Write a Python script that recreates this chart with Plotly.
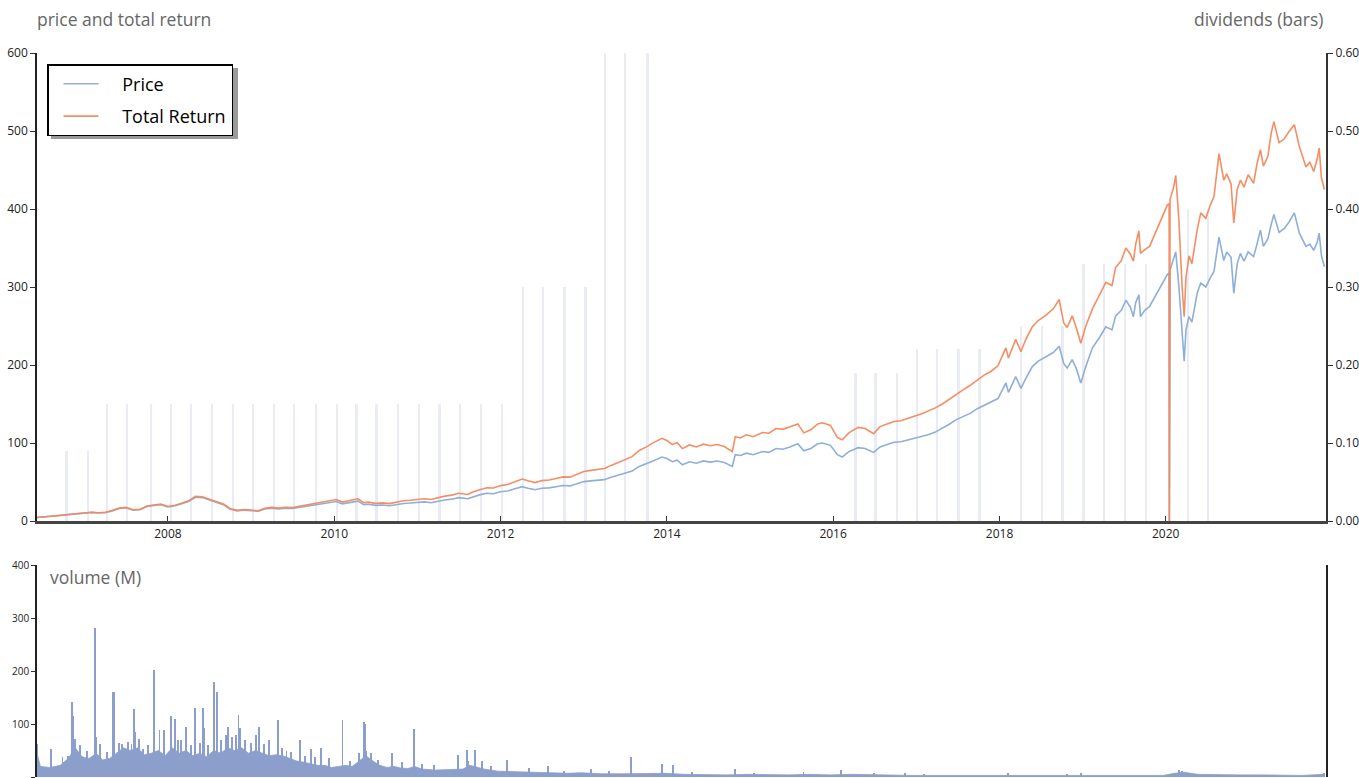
import plotly.graph_objects as go

# ---------------- data ----------------
dates = ["2006-06-05","2006-07-01","2006-08-01","2006-09-01","2006-10-01","2006-11-01","2006-12-01",
"2007-01-01","2007-02-01","2007-03-01","2007-04-01","2007-05-01","2007-06-01","2007-07-01","2007-08-01",
"2007-09-01","2007-10-01","2007-11-01","2007-12-01","2008-01-01","2008-02-01","2008-03-01","2008-04-01",
"2008-05-01","2008-06-01","2008-07-01","2008-08-01","2008-09-01","2008-10-01","2008-11-01","2008-12-01",
"2009-01-01","2009-02-01","2009-03-01","2009-04-01","2009-05-01","2009-06-01","2009-07-01","2009-08-01",
"2009-09-01","2009-10-01","2009-11-01","2009-12-01","2010-01-10","2010-02-05","2010-03-01","2010-04-15",
"2010-05-10","2010-06-01","2010-07-01","2010-08-01","2010-09-01","2010-10-01","2010-11-01","2010-12-01",
"2011-01-01","2011-02-01","2011-03-01","2011-04-01","2011-05-01","2011-06-01","2011-07-01","2011-08-10",
"2011-09-01","2011-10-01","2011-11-01","2011-12-01","2012-01-01","2012-02-01","2012-03-01","2012-04-05",
"2012-05-01","2012-06-01","2012-07-01","2012-08-01","2012-09-01","2012-10-01","2012-11-01","2012-12-01",
"2013-01-01","2013-02-01","2013-03-01","2013-04-01","2013-05-01","2013-06-01","2013-07-01","2013-08-01",
"2013-09-01","2013-10-01","2013-11-01","2013-12-10","2014-01-01","2014-01-25","2014-02-15","2014-03-10",
"2014-04-10","2014-05-10","2014-06-10","2014-07-10","2014-08-10","2014-09-10","2014-10-15","2014-10-28",
"2014-11-20","2014-12-15","2015-01-15","2015-02-25","2015-03-25","2015-04-25","2015-05-25","2015-06-25",
"2015-07-30","2015-08-25","2015-09-25","2015-10-25","2015-11-15","2015-12-20","2016-01-20","2016-02-10",
"2016-03-10","2016-04-20","2016-05-20","2016-06-27","2016-07-25","2016-08-25","2016-09-25","2016-10-25",
"2016-11-25","2016-12-25","2017-01-25","2017-02-25","2017-03-25","2017-04-25","2017-05-25","2017-06-25",
"2017-07-25","2017-08-25","2017-09-25","2017-10-25","2017-11-25","2017-12-25","2018-01-29","2018-02-09",
"2018-03-13","2018-04-05","2018-04-25","2018-05-25","2018-06-20","2018-07-24","2018-08-25","2018-09-20",
"2018-10-10","2018-10-25","2018-11-16","2018-12-05","2018-12-24","2019-01-15","2019-02-13","2019-03-15",
"2019-04-13","2019-05-10","2019-05-26","2019-06-20","2019-07-10","2019-07-30","2019-08-12","2019-08-22",
"2019-09-05","2019-09-12","2019-10-01","2019-10-22","2019-11-15","2019-12-08","2020-01-08","2020-01-16",
"2020-01-17","2020-01-20","2020-02-05","2020-02-14","2020-02-28","2020-03-13","2020-03-22","2020-03-30",
"2020-04-12","2020-04-25","2020-05-18","2020-06-03","2020-06-25","2020-07-15","2020-07-31","2020-08-22",
"2020-09-12","2020-09-25","2020-10-14","2020-10-26","2020-11-10","2020-11-24","2020-12-10","2020-12-28",
"2021-01-21","2021-02-05","2021-02-20","2021-03-05","2021-03-25","2021-04-08","2021-04-20","2021-05-13",
"2021-06-05","2021-06-25","2021-07-19","2021-08-10","2021-08-25","2021-09-08","2021-09-25","2021-10-12",
"2021-10-28","2021-11-05","2021-11-15","2021-11-28"]

price = [4.5,5.0,5.5,6.5,7.5,8.5,9.5,
10.5,11.0,10.2,10.8,13.0,16.0,17.0,14.0,
14.5,18.5,20.0,21.0,18.0,19.5,22.0,25.0,
30.5,30.0,27.0,24.0,21.0,15.0,13.0,14.0,
13.0,12.5,15.5,16.5,15.5,16.5,16.0,17.5,
19.0,20.5,21.5,23.5,25.0,22.0,23.5,25.5,
21.0,21.5,20.0,20.5,19.5,21.0,22.5,23.0,
24.0,24.5,23.5,25.5,27.0,28.0,30.0,28.5,
31.0,33.5,35.5,35.0,37.5,38.5,41.0,44.0,
42.0,40.0,42.0,42.5,44.0,45.5,45.0,47.5,
50.5,51.5,52.5,53.0,56.0,58.5,61.0,64.0,
70.0,73.0,77.0,82.0,80.0,76.0,78.0,72.0,
76.0,74.0,77.0,75.5,77.0,75.0,70.0,85.0,
84.0,87.0,85.0,89.0,88.0,93.0,92.0,95.0,
99.0,90.0,93.0,99.0,100.0,97.0,85.0,82.0,
89.0,94.0,93.0,88.0,95.0,98.0,101.0,101.5,
104.0,106.0,108.0,111.0,114.0,119.0,124.0,130.0,
134.0,138.0,144.0,148.0,152.0,157.0,177.0,165.0,
185.0,170.0,182.0,198.0,205.0,211.0,216.0,224.0,
202.0,196.0,207.0,195.0,177.0,198.0,222.0,235.0,
249.0,245.0,263.0,270.0,283.0,274.0,262.0,280.0,
290.0,262.0,270.0,275.0,288.0,300.0,316.0,318.0,
0.0,322.0,335.0,345.0,300.0,235.0,205.0,245.0,
262.0,255.0,292.0,305.0,300.0,312.0,320.0,364.0,
334.0,345.0,338.0,292.0,330.0,343.0,333.0,345.0,
339.0,355.0,373.0,352.0,362.0,380.0,393.0,370.0,
375.0,383.0,395.0,369.0,360.0,352.0,355.0,347.0,
358.0,369.0,340.0,326.0]

total_return = [4.5,5.0,5.6,6.6,7.7,8.7,9.8,
10.8,11.3,10.5,11.1,13.4,16.5,17.5,14.5,
15.0,19.1,20.6,21.7,18.6,20.2,22.8,25.9,
31.6,31.1,28.0,25.0,21.9,15.7,13.6,14.7,
13.7,13.2,16.4,17.5,16.5,17.6,17.1,18.8,
20.4,22.1,23.2,25.4,27.5,24.3,26.0,28.5,
23.6,24.2,22.6,23.3,22.3,24.1,25.9,26.6,
27.9,28.6,27.6,30.0,31.9,33.2,35.6,34.0,
37.1,40.2,42.7,42.3,45.4,46.8,50.0,53.8,
51.5,49.2,51.8,52.6,54.6,56.6,56.2,59.5,
63.5,64.9,66.4,67.2,71.3,74.8,78.3,82.5,
90.5,94.7,100.2,106.0,103.2,98.0,100.5,92.8,
97.5,95.0,98.5,96.5,98.0,95.5,89.0,108.0,
106.5,110.5,108.0,113.5,112.5,118.5,117.5,121.0,
124.5,113.0,117.0,124.5,126.0,122.5,107.0,104.0,
113.0,120.0,118.5,112.0,121.0,124.5,127.5,128.5,
132.0,134.5,137.5,141.0,145.0,150.0,156.0,163.0,
168.0,174.0,181.0,187.0,192.0,199.0,222.0,209.0,
233.0,217.0,232.0,249.0,257.0,264.0,272.0,284.0,
254.0,248.0,263.0,247.0,228.0,250.0,272.0,290.0,
306.0,302.0,325.0,334.0,350.0,342.0,333.0,355.0,
372.0,343.0,348.0,352.0,368.0,382.0,405.0,407.0,
0.0,412.0,428.0,443.0,385.0,300.0,262.0,312.0,
340.0,330.0,373.0,395.0,388.0,405.0,416.0,471.0,
437.0,445.0,432.0,382.0,425.0,437.0,428.0,444.0,
433.0,458.0,476.0,455.0,468.0,497.0,512.0,485.0,
490.0,499.0,508.0,480.0,465.0,454.0,460.0,448.0,
465.0,478.0,440.0,425.0]

div_dates = ["2006-10-12","2007-01-15","2007-04-08","2007-07-05","2007-10-19","2008-01-15","2008-04-12",
"2008-07-12","2008-10-12","2009-01-08","2009-04-12","2009-07-08","2009-10-12","2010-01-12","2010-04-08",
"2010-07-05","2010-10-08","2011-01-08","2011-04-08","2011-07-08","2011-10-08","2012-01-08","2012-04-08",
"2012-07-05","2012-10-08","2013-01-08","2013-04-05","2013-07-02","2013-10-08","2016-04-08","2016-07-05",
"2016-10-08","2017-01-05","2017-04-02","2017-07-05","2017-10-05","2018-04-05","2018-07-05","2018-10-05",
"2019-01-05","2019-04-05","2019-07-05","2019-10-05","2020-04-08","2020-07-05"]
div_vals = [0.09,0.09,0.15,0.15,0.15,0.15,0.15,
0.15,0.15,0.15,0.15,0.15,0.15,0.15,0.15,
0.15,0.15,0.15,0.15,0.15,0.15,0.15,0.30,
0.30,0.30,0.30,0.60,0.60,0.60,0.19,0.19,
0.19,0.22,0.22,0.22,0.22,0.25,0.25,0.25,
0.33,0.33,0.33,0.33,0.40,0.40]

vol_base_dates = ["2006-06-05","2006-06-20","2006-08-01","2006-09-15","2006-10-20","2006-11-20","2006-12-20",
"2007-01-20","2007-02-20","2007-03-20","2007-04-20","2007-05-20","2007-06-20","2007-07-20","2007-08-20",
"2007-09-20","2007-10-20","2007-11-20","2007-12-20","2008-01-20","2008-02-20","2008-03-20","2008-04-20",
"2008-05-20","2008-06-20","2008-07-20","2008-08-20","2008-09-20","2008-10-20","2008-11-20","2008-12-20",
"2009-01-20","2009-02-20","2009-03-20","2009-04-20","2009-05-20","2009-06-20","2009-07-20","2009-08-20",
"2009-09-20","2009-10-20","2009-11-20","2009-12-20","2010-01-20","2010-02-20","2010-03-20","2010-04-20",
"2010-05-20","2010-06-20","2010-07-20","2010-08-20","2010-09-20","2010-10-20","2010-11-20","2010-12-20",
"2011-01-20","2011-03-20","2011-05-20","2011-07-20","2011-08-20","2011-09-20","2011-10-20","2011-12-20",
"2012-02-20","2012-04-20","2012-06-20","2012-08-20","2012-10-20","2012-12-20","2013-03-20","2013-06-20",
"2013-09-20","2013-12-20","2014-03-20","2014-06-20","2014-09-20","2014-12-20","2015-03-20","2015-06-20",
"2015-09-20","2015-12-20","2016-03-20","2016-06-20","2016-09-20","2016-12-20","2017-03-20","2017-06-20",
"2017-09-20","2017-12-20","2018-03-20","2018-06-20","2018-09-20","2018-12-20","2019-03-20","2019-06-20",
"2019-09-20","2019-12-20","2020-02-10","2020-03-20","2020-05-20","2020-08-20","2020-11-20","2021-02-20",
"2021-05-20","2021-08-20","2021-11-28"]
vol_base_vals = [45,20,18,22,35,55,38,
35,45,32,35,45,55,50,55,
42,45,50,40,55,45,50,40,
45,38,50,45,55,50,55,45,
50,45,40,42,40,35,30,28,
25,22,22,18,20,22,20,30,
40,30,22,18,20,17,16,20,
15,13,14,15,22,18,15,11,
10,9,8,8,7,8,6,6,
6,7,5,4,4,5,4,4,
5,4,5,4,3,3,3,3,
3,3,4,3,3,4,3,3,
3,3,7,9,5,4,4,4,
3,3,5]

vol_spike_dates = ["2006-06-07","2006-08-04","2006-09-25","2006-10-20","2006-11-06","2006-11-12","2006-11-20",
"2006-12-10","2007-01-10","2007-02-13","2007-02-20","2007-03-10","2007-04-10","2007-05-04","2007-05-08",
"2007-06-01","2007-06-15","2007-07-10","2007-07-25","2007-08-04","2007-08-10","2007-08-28","2007-09-15",
"2007-10-05","2007-10-30","2007-11-03","2007-11-25","2007-12-13","2008-01-15","2008-02-03","2008-02-15",
"2008-02-28","2008-03-20","2008-04-10","2008-04-30","2008-05-20","2008-06-03","2008-06-08","2008-06-25",
"2008-07-20","2008-08-04","2008-08-20","2008-09-12","2008-09-22","2008-10-10","2008-10-25","2008-11-06",
"2008-11-12","2008-12-05","2009-01-01","2009-01-22","2009-02-06","2009-02-25","2009-03-20","2009-04-30",
"2009-05-15","2009-06-05","2009-06-25","2009-08-05","2009-08-25","2009-09-20","2009-10-10","2009-11-03",
"2009-12-10","2010-02-06","2010-03-10","2010-04-20","2010-05-10","2010-05-14","2010-05-22","2010-06-10",
"2010-07-10","2010-09-12","2010-10-25","2010-12-16","2011-01-20","2011-03-15","2011-06-28","2011-08-05",
"2011-08-12","2011-09-12","2011-10-10","2011-11-20","2012-01-30","2012-05-04","2012-07-26","2012-10-05",
"2013-02-02","2013-04-20","2013-07-26","2013-12-12","2014-01-28","2014-04-20","2014-10-26","2015-01-20",
"2015-08-24","2016-02-05","2016-06-27","2016-11-10","2017-02-05","2018-02-08","2018-10-25","2018-12-24",
"2020-03-01","2020-03-12","2021-11-25"]
vol_spike_vals = [62,52,38,40,142,115,72,
60,50,282,75,63,48,161,160,
65,63,66,62,128,85,72,52,
60,202,95,88,88,115,110,70,
70,95,60,130,65,130,93,60,
180,160,70,80,95,75,80,117,
92,70,65,80,95,62,70,108,
55,50,48,70,40,52,38,55,
35,108,30,45,103,100,50,45,
32,45,28,90,25,22,42,51,
30,51,30,20,33,17,20,12,
15,11,37,24,22,9,15,8,
9,13,8,8,6,7,6,7,
14,12,8]

# ---------------- styling ----------------
BLUE = "#8FAED8"
ORANGE = "#F5895C"
VOL = "#8C9ECC"
DIV = "#E9ECF5"
DAY = 86400000
X_RANGE = ["2006-06-05", "2021-12-05"]
TICKFONT = dict(family="Open Sans", size=12, color="#222")
TITLEFONT = dict(family="Open Sans", size=17.5, color="#666")
PAD = "\u00a0" * 4   # spacing between legend line sample and label

fig = go.Figure()

fig.add_trace(go.Bar(x=div_dates, y=div_vals, width=10 * DAY, marker=dict(color=DIV, line=dict(width=0)),
                     xaxis="x", yaxis="y", showlegend=False, hoverinfo="x+y"))
fig.add_trace(go.Scatter(x=dates, y=price, mode="lines", name=PAD + "Price", line=dict(color=BLUE, width=1.6),
                         xaxis="x", yaxis="y2", legendgroup="a"))
fig.add_trace(go.Scatter(x=dates, y=total_return, mode="lines", name=PAD + "Total Return",
                         line=dict(color=ORANGE, width=1.6), opacity=0.95, xaxis="x", yaxis="y2", legendgroup="b"))
fig.add_trace(go.Scatter(x=vol_base_dates, y=vol_base_vals, mode="lines", fill="tozeroy", fillcolor=VOL,
                         line=dict(color=VOL, width=0.8), xaxis="x2", yaxis="y3", showlegend=False))
fig.add_trace(go.Bar(x=vol_spike_dates, y=vol_spike_vals, width=4 * DAY, marker=dict(color=VOL, line=dict(width=0)),
                     xaxis="x2", yaxis="y3", showlegend=False))

PW, PH = 1289, 724   # plot-area size in px (paper units)
def px(xp):
    return (xp - 37) / PW
def py(yp):
    return (777 - yp) / PH

fig.update_layout(
    width=1359, height=778,
    margin=dict(l=37, r=33, t=53, b=1, autoexpand=False),
    paper_bgcolor="white", plot_bgcolor="white",
    font=dict(family="Open Sans", color="#222"),
    bargap=0,
    xaxis=dict(domain=[0, 1], anchor="y", type="date", range=X_RANGE, tick0="2008-01-01", dtick="M24",
               tickformat="%Y", ticks="inside", ticklen=5, tickcolor="#333", showline=True, linecolor="#444",
               linewidth=3, showgrid=False, zeroline=False, tickfont=TICKFONT, automargin=False),
    yaxis=dict(domain=[py(521), 1], anchor="x", side="right", range=[0, 0.6], dtick=0.1, tickformat=".2f",
               ticks="outside", ticklen=5, tickcolor="#333", showline=True, linecolor="#333", linewidth=2,
               showgrid=False, zeroline=False, tickfont=TICKFONT, automargin=False),
    yaxis2=dict(overlaying="y", anchor="x", side="left", range=[0, 600], dtick=100, ticks="outside", ticklen=5,
                tickcolor="#333", showline=True, linecolor="#222", linewidth=1.5, showgrid=False, zeroline=False,
                tickfont=TICKFONT, automargin=False),
    xaxis2=dict(domain=[0, 1], anchor="y3", type="date", range=X_RANGE, showticklabels=False, ticks="",
                showline=False, showgrid=False, zeroline=False, automargin=False),
    yaxis3=dict(domain=[0, py(565)], anchor="x2", range=[0, 400], dtick=100, ticks="outside", ticklen=4,
                tickcolor="#333", showline=True, mirror=True, linecolor="#222", linewidth=1.5, showgrid=False,
                zeroline=False, tickfont=dict(family="Open Sans", size=10, color="#222"), automargin=False),
    legend=dict(x=px(47), y=py(64), xanchor="left", yanchor="top",
                bgcolor="white", bordercolor="black", borderwidth=1.5,
                font=dict(family="Open Sans", size=18, color="black"),
                traceorder="grouped", tracegroupgap=6, itemwidth=35, indentation=10),
    showlegend=True,
    annotations=[
        dict(text="price and total return", xref="paper", yref="paper", x=px(35), y=py(19),
             xanchor="left", yanchor="middle", showarrow=False, font=TITLEFONT),
        dict(text="dividends (bars)", xref="paper", yref="paper", x=px(1325), y=py(19),
             xanchor="right", yanchor="middle", showarrow=False, font=TITLEFONT),
        dict(text="volume (M)", xref="paper", yref="paper", x=px(48), y=py(577),
             xanchor="left", yanchor="middle", showarrow=False, font=TITLEFONT),
    ],
    shapes=[
        dict(type="rect", xref="paper", yref="paper", x0=px(51), x1=px(238), y0=py(139), y1=py(68),
             fillcolor="#9a9a9a", line=dict(width=0), layer="above"),
    ],
)

fig.write_html("out.html", config={"displayModeBar": False},
               post_script="document.body.style.margin='0';document.body.style.overflow='hidden';")
